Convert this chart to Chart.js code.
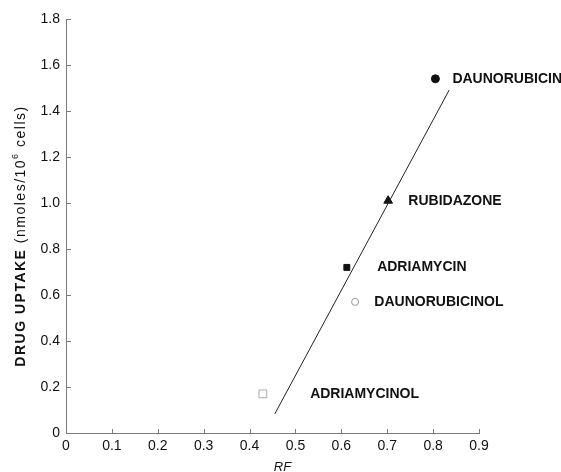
<!DOCTYPE html>
<html>
<head>
<meta charset="utf-8">
<script src="https://cdn.jsdelivr.net/npm/chart.js@4.4.1/dist/chart.umd.min.js"></script>
<style>
  html, body { margin: 0; padding: 0; background: #fff; }
</style>
</head>
<body>
<canvas id="uptakeChart" width="561" height="472"></canvas>
<script>
// Drug uptake vs RF
const drugs = ['DAUNORUBICIN', 'RUBIDAZONE', 'ADRIAMYCIN', 'DAUNORUBICINOL', 'ADRIAMYCINOL'];
const rfValues = [0.805, 0.702, 0.612, 0.630, 0.429];
const uptakeValues = [1.54, 1.01, 0.72, 0.57, 0.17];
// where each drug name starts, in RF units
const labelRf = [0.842, 0.746, 0.678, 0.672, 0.532];

// regression line end points
const fitRf = [0.455, 0.835];
const fitUptake = [0.083, 1.491];

const xTickLabels = ['0', '0.1', '0.2', '0.3', '0.4', '0.5', '0.6', '0.7', '0.8', '0.9'];
const yTickLabels = ['0', '0.2', '0.4', '0.6', '0.8', '1.0', '1.2', '1.4', '1.6', '1.8'];

const FONT = '"Liberation Sans", Arial, sans-serif';
const INK = '#111';
const AXIS = '#7a7a7a';

// inner tick marks, drug names and axis titles
const annotatePlugin = {
    id: 'annotate',
    afterDatasetsDraw(chart) {
        const ctx = chart.ctx;
        const xs = chart.scales.x;
        const ys = chart.scales.y;
        ctx.save();

        // ticks point into the plot
        ctx.strokeStyle = AXIS;
        ctx.lineWidth = 1;
        ctx.beginPath();
        ys.ticks.forEach(t => {
            if (t.value === 0) return;
            const py = Math.round(ys.getPixelForValue(t.value)) + 0.5;
            ctx.moveTo(xs.left, py);
            ctx.lineTo(xs.left + 5, py);
        });
        xs.ticks.forEach(t => {
            if (t.value === 0) return;
            const px = Math.round(xs.getPixelForValue(t.value)) + 0.5;
            ctx.moveTo(px, ys.bottom);
            ctx.lineTo(px, ys.bottom - 4);
        });
        ctx.stroke();

        // drug names
        ctx.fillStyle = INK;
        ctx.font = 'bold 14px ' + FONT;
        ctx.textAlign = 'left';
        ctx.textBaseline = 'middle';
        drugs.forEach((name, i) => {
            ctx.fillText(name, xs.getPixelForValue(labelRf[i]), ys.getPixelForValue(uptakeValues[i]));
        });

        // x title
        ctx.font = 'italic 13px ' + FONT;
        ctx.textAlign = 'center';
        ctx.textBaseline = 'top';
        ctx.fillText('RF', (xs.left + xs.right) / 2 + 10, 461);

        // y title, mixed weights with a superscript
        const parts = [
            { text: 'DRUG UPTAKE', font: 'bold 14px ' + FONT, dy: 0 },
            { text: ' (nmoles/10', font: '14px ' + FONT, dy: 0 },
            { text: '6', font: '9px ' + FONT, dy: -5 },
            { text: ' cells)', font: '14px ' + FONT, dy: 0 }
        ];
        ctx.letterSpacing = '1.5px';
        let total = 0;
        parts.forEach(p => {
            ctx.font = p.font;
            p.w = ctx.measureText(p.text).width;
            total += p.w;
        });
        ctx.translate(21, (ys.top + ys.bottom) / 2 + 10);
        ctx.rotate(-Math.PI / 2);
        ctx.textAlign = 'left';
        ctx.textBaseline = 'middle';
        let cx = -total / 2;
        parts.forEach(p => {
            ctx.font = p.font;
            ctx.fillText(p.text, cx, p.dy);
            cx += p.w;
        });

        ctx.restore();
    }
};

const ctx = document.getElementById('uptakeChart').getContext('2d');
new Chart(ctx, {
    type: 'scatter',
    data: {
        datasets: [
            {
                type: 'line',
                data: fitRf.map((x, i) => ({ x: x, y: fitUptake[i] })),
                borderColor: '#222',
                borderWidth: 1,
                pointRadius: 0,
                fill: false,
                clip: false
            },
            {
                data: rfValues.map((x, i) => ({ x: x, y: uptakeValues[i] })),
                pointStyle: ['circle', 'triangle', 'rect', 'circle', 'rect'],
                pointRadius: [4, 5, 4.2, 3.5, 5.5],
                backgroundColor: [INK, INK, INK, 'rgba(0,0,0,0)', 'rgba(0,0,0,0)'],
                borderColor: [INK, INK, INK, '#999', '#aaa'],
                borderWidth: 1,
                clip: false
            }
        ]
    },
    options: {
        responsive: false,
        animation: false,
        layout: {
            padding: { top: 19, right: 82, bottom: 0, left: 0 }
        },
        plugins: {
            legend: { display: false },
            tooltip: { enabled: false }
        },
        scales: {
            x: {
                type: 'linear',
                min: 0,
                max: 0.9,
                grid: { display: false, drawTicks: false },
                border: { display: true, color: AXIS, width: 1 },
                ticks: {
                    stepSize: 0.1,
                    padding: 5,
                    color: INK,
                    font: { family: FONT, size: 14 },
                    maxRotation: 0,
                    autoSkip: false,
                    callback: (value, index) => xTickLabels[index]
                },
                afterFit: scale => { scale.height = 39; }
            },
            y: {
                type: 'linear',
                min: 0,
                max: 1.8,
                grid: { display: false, drawTicks: false },
                border: { display: true, color: AXIS, width: 1 },
                ticks: {
                    stepSize: 0.2,
                    padding: 6,
                    color: INK,
                    font: { family: FONT, size: 14 },
                    autoSkip: false,
                    callback: (value, index) => yTickLabels[index]
                },
                afterFit: scale => { scale.width = 66; }
            }
        }
    },
    plugins: [annotatePlugin]
});
</script>
</body>
</html>
